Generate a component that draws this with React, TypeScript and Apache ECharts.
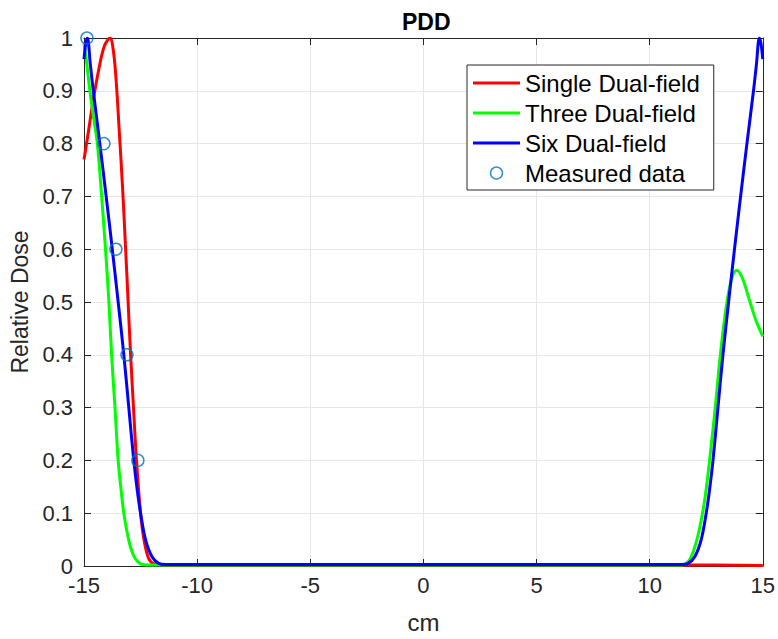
import React, { useEffect, useRef } from "react";
import * as echarts from "echarts";

const titleText = "PDD";
const xAxisName = "cm";
const yAxisName = "Relative Dose";
const seriesNames = ["Single Dual-field", "Three Dual-field", "Six Dual-field", "Measured data"];

const singleDual: number[][] = [
  [-15, 0.77], [-14.85, 0.81], [-14.6, 0.88], [-14.35, 0.94], [-14.1, 0.985], [-13.85, 1.0],
  [-13.7, 0.975], [-13.58, 0.92], [-13.45, 0.83], [-13.3, 0.72], [-13.16, 0.6], [-13.05, 0.5],
  [-12.94, 0.4], [-12.8, 0.29], [-12.68, 0.2], [-12.5, 0.1], [-12.35, 0.05], [-12.15, 0.015],
  [-11.9, 0.004], [-11.5, 0.002], [-8, 0.002], [-4, 0.002], [0, 0.002], [4, 0.002], [8, 0.002],
  [11.5, 0.002], [15, 0.001],
];

const threeDual: number[][] = [
  [-15, 0.99], [-14.9, 0.96], [-14.74, 0.9], [-14.58, 0.85], [-14.41, 0.8], [-14.22, 0.7],
  [-14.05, 0.6], [-13.9, 0.5], [-13.78, 0.4], [-13.63, 0.3], [-13.49, 0.2], [-13.35, 0.14],
  [-13.24, 0.1], [-13.1, 0.065], [-12.94, 0.035], [-12.75, 0.015], [-12.5, 0.004], [-12.2, 0.002],
  [-8, 0.002], [-4, 0.002], [0, 0.002], [4, 0.002], [8, 0.002], [11.4, 0.002], [11.7, 0.008],
  [11.95, 0.03], [12.2, 0.07], [12.45, 0.13], [12.7, 0.22], [12.9, 0.3], [13.1, 0.39],
  [13.35, 0.48], [13.6, 0.54], [13.85, 0.56], [14.1, 0.545], [14.4, 0.505], [14.7, 0.465],
  [15, 0.435],
];

const sixDual: number[][] = [
  [-15, 0.96], [-14.92, 0.99], [-14.85, 1.0], [-14.72, 0.95], [-14.59, 0.9], [-14.3, 0.8],
  [-14.02, 0.7], [-13.75, 0.6], [-13.49, 0.5], [-13.24, 0.4], [-13.02, 0.3], [-12.8, 0.2],
  [-12.65, 0.145], [-12.5, 0.1], [-12.28, 0.05], [-12.0, 0.018], [-11.7, 0.005], [-11.4, 0.003],
  [-8, 0.003], [-4, 0.003], [0, 0.003], [4, 0.003], [8, 0.003], [11.4, 0.003], [11.7, 0.005],
  [12.0, 0.018], [12.28, 0.05], [12.5, 0.1], [12.65, 0.145], [12.8, 0.2], [13.02, 0.3],
  [13.24, 0.4], [13.49, 0.5], [13.75, 0.6], [14.02, 0.7], [14.3, 0.8], [14.59, 0.9],
  [14.72, 0.95], [14.85, 1.0], [14.92, 0.99], [15, 0.96],
];

const measured: number[][] = [
  [-14.87, 1.0], [-14.12, 0.8], [-13.59, 0.6], [-13.1, 0.4], [-12.62, 0.2],
];

const FONT = "'Liberation Sans', Arial, Helvetica, sans-serif";
const AX = "#262626";
const LINE_ICON = "path://M0,0h48v3h-48z";

export default function App() {
  const ref = useRef<HTMLDivElement>(null);
  useEffect(() => {
    if (!ref.current) return;
    const chart = echarts.init(ref.current, undefined, { renderer: "svg" });
    const lineSeries = (name: string, data: number[][], color: string) => ({
      name,
      type: "line",
      data,
      symbol: "none",
      smooth: 0.35,
      lineStyle: { color, width: 3 },
      itemStyle: { color },
      xAxisIndex: 0,
      yAxisIndex: 0,
    });
    chart.setOption({
      animation: false,
      backgroundColor: "#ffffff",
      title: {
        text: titleText,
        left: 397,
        top: 5,
        textStyle: { fontFamily: FONT, fontSize: 23, fontWeight: "bold", color: "#000" },
      },
      grid: { left: 84, right: 13, top: 38, bottom: 68, show: false },
      legend: {
        orient: "vertical",
        left: 467,
        top: 65,
        padding: [6, 14, 5, 6],
        itemGap: 6,
        itemWidth: 47,
        itemHeight: 12,
        selectedMode: false,
        backgroundColor: "#ffffff",
        borderColor: "#262626",
        borderWidth: 1,
        borderRadius: 0,
        textStyle: { fontFamily: FONT, fontSize: 24, color: "#000", lineHeight: 24 },
        data: [
          { name: seriesNames[0], icon: LINE_ICON, itemStyle: { color: "#ff0000", borderWidth: 0 } },
          { name: seriesNames[1], icon: LINE_ICON, itemStyle: { color: "#00ff00", borderWidth: 0 } },
          { name: seriesNames[2], icon: LINE_ICON, itemStyle: { color: "#0000ff", borderWidth: 0 } },
          {
            name: seriesNames[3],
            icon: "circle",
            itemStyle: { color: "transparent", borderColor: "#0072BD", borderWidth: 1.5 },
          },
        ],
      },
      xAxis: [
        {
          type: "value",
          min: -15,
          max: 15,
          interval: 5,
          position: "bottom",
          name: xAxisName,
          nameLocation: "middle",
          nameGap: 44,
          nameTextStyle: { fontFamily: FONT, fontSize: 24, color: AX },
          axisLine: { show: true, onZero: false, lineStyle: { color: AX, width: 1 } },
          axisTick: { show: true, inside: true, length: 7, lineStyle: { color: AX } },
          axisLabel: { fontFamily: FONT, fontSize: 22, color: AX, margin: 8 },
          splitLine: { show: true, lineStyle: { color: "#e6e6e6", width: 1 } },
        },
        {
          type: "value",
          min: -15,
          max: 15,
          interval: 5,
          position: "top",
          axisLine: { show: true, onZero: false, lineStyle: { color: AX, width: 1 } },
          axisTick: { show: true, inside: true, length: 7, lineStyle: { color: AX } },
          axisLabel: { show: false },
          splitLine: { show: false },
        },
      ],
      yAxis: [
        {
          type: "value",
          min: 0,
          max: 1,
          interval: 0.1,
          position: "left",
          name: yAxisName,
          nameLocation: "middle",
          nameGap: 49,
          nameTextStyle: { fontFamily: FONT, fontSize: 23, color: AX },
          axisLine: { show: true, onZero: false, lineStyle: { color: AX, width: 1 } },
          axisTick: { show: true, inside: true, length: 7, lineStyle: { color: AX } },
          axisLabel: { fontFamily: FONT, fontSize: 22, color: AX, margin: 11 },
          splitLine: { show: true, lineStyle: { color: "#e6e6e6", width: 1 } },
        },
        {
          type: "value",
          min: 0,
          max: 1,
          interval: 0.1,
          position: "right",
          axisLine: { show: true, onZero: false, lineStyle: { color: AX, width: 1 } },
          axisTick: { show: true, inside: true, length: 7, lineStyle: { color: AX } },
          axisLabel: { show: false },
          splitLine: { show: false },
        },
      ],
      series: [
        lineSeries(seriesNames[0], singleDual, "#ff0000"),
        lineSeries(seriesNames[1], threeDual, "#00ff00"),
        lineSeries(seriesNames[2], sixDual, "#0000ff"),
        {
          name: seriesNames[3],
          type: "scatter",
          data: measured,
          symbol: "circle",
          symbolSize: 12,
          itemStyle: { color: "transparent", borderColor: "#0072BD", borderWidth: 1.5 },
          xAxisIndex: 0,
          yAxisIndex: 0,
          z: 5,
        },
      ],
    });
    return () => chart.dispose();
  }, []);
  return (
    <div
      ref={ref}
      style={{ position: "fixed", left: 0, top: 0, width: 778, height: 639 }}
    />
  );
}
